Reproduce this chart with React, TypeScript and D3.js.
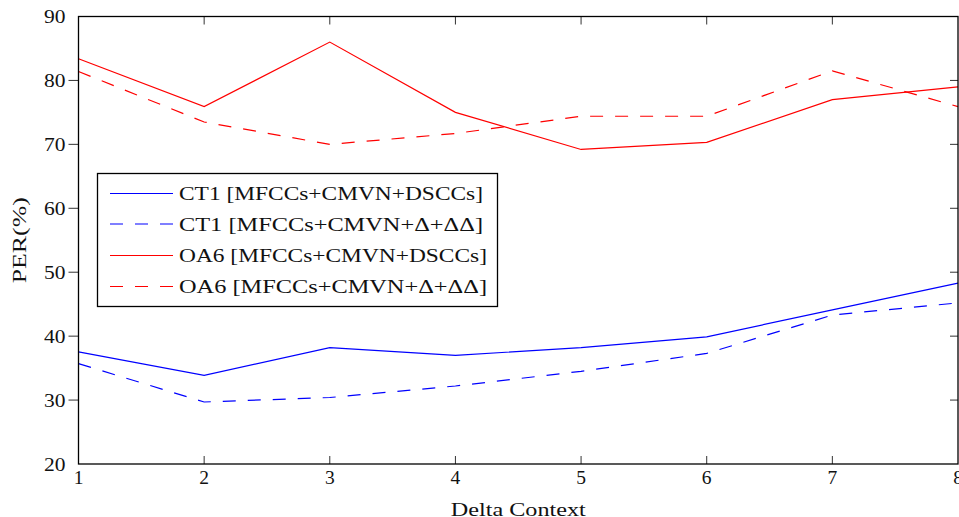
import React from "react";
import * as d3 from "d3";

const deltaContext = [1, 2, 3, 4, 5, 6, 7, 8];
const ct1Dsccs = [37.55, 33.85, 38.2, 37.0, 38.2, 39.9, 44.1, 48.3];
const ct1Delta = [35.7, 29.7, 30.4, 32.2, 34.5, 37.3, 43.3, 45.2];
const oa6Dsccs = [83.4, 75.9, 86.0, 75.0, 69.2, 70.3, 77.0, 79.0];
const oa6Delta = [81.4, 73.5, 70.0, 71.7, 74.4, 74.4, 81.5, 75.9];
const yTicks = [20, 30, 40, 50, 60, 70, 80, 90];
const seriesNames = [
  "CT1 [MFCCs+CMVN+DSCCs]",
  "CT1 [MFCCs+CMVN+\u0394+\u0394\u0394]",
  "OA6 [MFCCs+CMVN+DSCCs]",
  "OA6 [MFCCs+CMVN+\u0394+\u0394\u0394]",
];
const xLabel = "Delta Context";
const yLabel = "PER(%)";

const W = 959;
const H = 517;
const L = 78.5, R = 958, T = 16.5, B = 464;
const FONT = "'Liberation Serif', 'DejaVu Serif', serif";

export default function App() {
  const x = d3.scaleLinear().domain([1, 8]).range([L, R]);
  const y = d3.scaleLinear().domain([20, 90]).range([B, T]);
  const line = d3
    .line<number>()
    .x((_, i) => x(deltaContext[i]))
    .y((d) => y(d));

  const series = [
    { name: seriesNames[0], data: ct1Dsccs, color: "#0000ff", dash: "none" },
    { name: seriesNames[1], data: ct1Delta, color: "#0000ff", dash: "13,12" },
    { name: seriesNames[2], data: oa6Dsccs, color: "#ff0000", dash: "none" },
    { name: seriesNames[3], data: oa6Delta, color: "#ff0000", dash: "13,12" },
  ];

  const legX = 97.5, legY = 173.5, legW = 400, legH = 133;
  const rowYs = [193.5, 224, 255.5, 286.5];
  const legendWidths = [304, 304, 308, 308];

  return (
    <svg
      width={W}
      height={H}
      style={{ position: "absolute", left: 0, top: 0, background: "#fff" }}
      fontFamily={FONT}
    >
      <rect x={0} y={0} width={W} height={H} fill="#fff" />
      {/* ticks */}
      {deltaContext.slice(1, -1).map((v) => (
        <g key={"xt" + v} stroke="#333" strokeWidth={1}>
          <line x1={x(v)} x2={x(v)} y1={B} y2={B - 8} />
          <line x1={x(v)} x2={x(v)} y1={T} y2={T + 8} />
        </g>
      ))}
      {yTicks.slice(1, -1).map((v) => (
        <g key={"yt" + v} stroke="#333" strokeWidth={1}>
          <line x1={L} x2={L - 10} y1={y(v)} y2={y(v)} />
          <line x1={R} x2={R - 8} y1={y(v)} y2={y(v)} />
        </g>
      ))}
      {/* series */}
      {series.map((s) => (
        <path
          key={s.name}
          d={line(s.data) || ""}
          fill="none"
          stroke={s.color}
          strokeWidth={1.2}
          strokeDasharray={s.dash}
        />
      ))}
      {/* frame */}
      <rect
        x={L}
        y={T}
        width={R - L}
        height={B - T}
        fill="none"
        stroke="#000"
        strokeWidth={1.3}
      />
      {/* tick labels */}
      {deltaContext.map((v) => (
        <text
          key={"xl" + v}
          x={x(v)}
          y={484}
          textAnchor="middle"
          fontSize={19.5}
          fill="#111"
        >
          {v}
        </text>
      ))}
      {yTicks.map((v) => (
        <text
          key={"yl" + v}
          x={65.5}
          y={y(v) + 6.5}
          textAnchor="end"
          fontSize={19.5}
          fill="#111"
          textLength={21.5}
          lengthAdjust="spacingAndGlyphs"
        >
          {v}
        </text>
      ))}
      {/* axis labels */}
      <text
        x={(L + R) / 2}
        y={515.5}
        textAnchor="middle"
        fontSize={19.5}
        fill="#111"
        textLength={135}
        lengthAdjust="spacingAndGlyphs"
      >
        {xLabel}
      </text>
      <text
        transform={`translate(26,${(T + B) / 2}) rotate(-90)`}
        textAnchor="middle"
        fontSize={19.5}
        fill="#111"
        textLength={86}
        lengthAdjust="spacingAndGlyphs"
      >
        {yLabel}
      </text>
      {/* legend */}
      <rect
        x={legX}
        y={legY}
        width={legW}
        height={legH}
        fill="#fff"
        stroke="#000"
        strokeWidth={1.3}
      />
      {series.map((s, i) => (
        <g key={"lg" + i}>
          <line
            x1={110}
            x2={173}
            y1={rowYs[i]}
            y2={rowYs[i]}
            stroke={s.color}
            strokeWidth={1.2}
            strokeDasharray={s.dash}
          />
          <text
            x={179}
            y={rowYs[i] + 6.5}
            fontSize={19.5}
            fill="#111"
            textLength={legendWidths[i]}
            lengthAdjust="spacingAndGlyphs"
          >
            {s.name}
          </text>
        </g>
      ))}
    </svg>
  );
}
